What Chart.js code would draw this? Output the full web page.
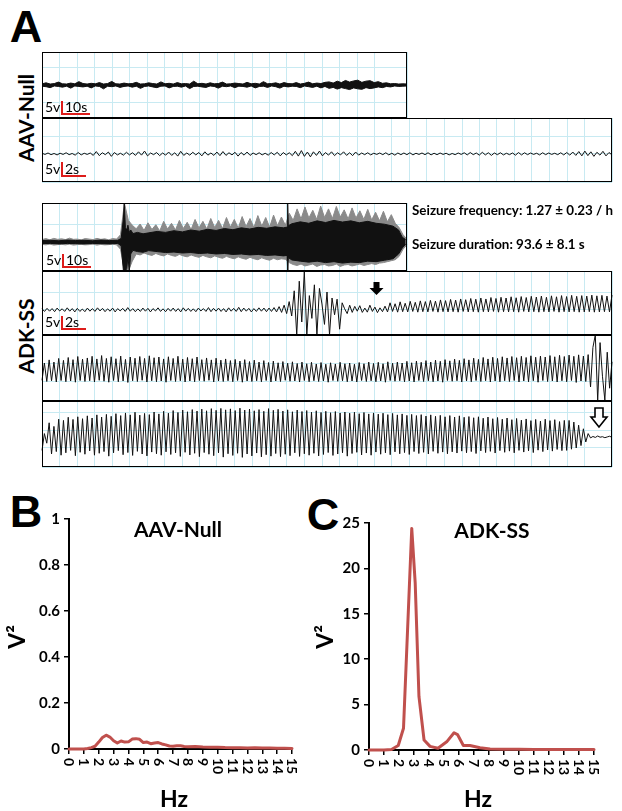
<!DOCTYPE html>
<html>
<head>
<meta charset="utf-8">
<title>EEG traces and power spectra</title>
<script src="https://cdn.jsdelivr.net/npm/chart.js@4.4.1/dist/chart.umd.min.js"></script>
<style>
  html, body { margin: 0; padding: 0; background: #fff; }
  body { position: relative; width: 622px; height: 811px; overflow: hidden; font-family: Lato, "Open Sans", sans-serif; color: #000; }
  canvas { position: absolute; }
  .t { position: absolute; white-space: nowrap; line-height: 1; transform: translate(-50%, -50%); }
  .l { position: absolute; white-space: nowrap; line-height: 1; transform: translate(0, -50%); }
  .rot { transform: translate(-50%, -50%) rotate(-90deg); }
  .b { font-weight: bold; }
  .letter { font-family: "Liberation Sans", Arial, sans-serif; font-weight: bold; font-size: 45px; }
  .scale { font-size: 14px; }
  #overlay { position: absolute; left: 0; top: 0; }
</style>
</head>
<body>

<!-- panel A -->
<div class="t letter" style="left:26px;top:26px">A</div>
<div class="t rot b" style="left:25px;top:118px;font-size:21px">AAV-Null</div>
<div class="t rot b" style="left:25px;top:336px;font-size:21px">ADK-SS</div>

<canvas id="aavSlow"></canvas>
<canvas id="aavFast"></canvas>
<canvas id="adkSlow"></canvas>
<canvas id="adkFast1"></canvas>
<canvas id="adkFast2"></canvas>
<canvas id="adkFast3"></canvas>

<div class="l b" style="left:412px;top:211px;font-size:13.4px">Seizure frequency: 1.27 ± 0.23 / h</div>
<div class="l b" style="left:412px;top:245px;font-size:13.4px">Seizure duration: 93.6 ± 8.1 s</div>

<div class="l scale" style="left:45px;top:107px">5v</div>
<div class="l scale" style="left:65px;top:107px">10s</div>
<div class="l scale" style="left:45px;top:169px">5v</div>
<div class="l scale" style="left:65px;top:169px">2s</div>
<div class="l scale" style="left:46px;top:260px">5v</div>
<div class="l scale" style="left:66px;top:260px">10s</div>
<div class="l scale" style="left:45px;top:322px">5v</div>
<div class="l scale" style="left:65px;top:322px">2s</div>

<!-- panels B and C -->
<div class="t letter" style="left:26px;top:511px">B</div>
<div class="t letter" style="left:323px;top:514px">C</div>
<canvas id="specNull"></canvas>
<canvas id="specAdk"></canvas>
<div class="t b" style="left:178px;top:528px;font-size:21px">AAV-Null</div>
<div class="t b" style="left:492px;top:529px;font-size:21px">ADK-SS</div>
<div class="t rot b" style="left:16px;top:637px;font-size:23px">V²</div>
<div class="t rot b" style="left:324px;top:637px;font-size:23px">V²</div>
<div class="t b" style="left:174px;top:798px;font-size:23px">Hz</div>
<div class="t b" style="left:478px;top:798px;font-size:23px">Hz</div>

<svg id="overlay" width="622" height="811">
  <g stroke="#dd1c1a" stroke-width="2" fill="none">
    <path d="M62 101 V114 H90"/>
    <path d="M62 162 V176 H86"/>
    <path d="M63 254 V267 H91"/>
    <path d="M62 316 V329 H86"/>
  </g>
  <polygon points="373.5,282 379.5,282 379.5,288 383.5,288 376.5,295 369.5,288 373.5,288" fill="#000"/>
  <polygon points="595,408 603,408 603,417 607,417 599,427 591,417 595,417" fill="#fff" stroke="#000" stroke-width="1.6" stroke-linejoin="miter"/>
</svg>

<script>
// ---------------- data ----------------
// AAV-Null, 10 s/div sweep (130 s): upper and lower envelope of the trace, volts
const aavSlowHi = [0.5,0.9,0.4,0.6,1.2,0.5,0.4,0.8,0.5,1.4,
  0.6,0.4,0.7,0.5,1.0,0.4,0.6,1.5,0.5,0.4,
  0.8,0.5,0.6,1.1,0.4,0.5,0.9,0.6,0.4,1.3,
  0.5,0.7,0.4,1.0,0.5,0.6,0.4,1.6,0.5,0.7,
  0.4,0.9,0.5,0.6,1.2,0.4,0.5,0.8,0.6,0.4,
  1.1,0.5,0.7,0.4,1.4,0.5,0.6,0.9,0.4,1.0,
  0.6,0.5,1.0,0.4,0.7,1.2,0.5,0.8,0.6,1.1,
  1.3,0.8,1.6,1.0,1.9,1.2,1.7,2.0,1.1,1.6,
  1.8,1.0,1.4,0.7,0.9,0.5,0.6,0.4,0.5,0.4];
const aavSlowLo = [-0.5,-0.7,-1.1,-0.4,-0.6,-0.9,-0.5,-1.3,-0.4,-0.6,
  -0.8,-0.5,-1.2,-0.4,-0.6,-1.6,-0.5,-0.7,-0.4,-1.0,
  -0.6,-0.4,-0.9,-0.5,-1.4,-0.6,-0.4,-0.8,-1.1,-0.5,
  -0.4,-1.2,-0.6,-0.5,-0.9,-0.4,-1.5,-0.6,-0.5,-0.8,
  -1.0,-0.4,-0.6,-1.3,-0.5,-0.7,-0.4,-1.1,-0.5,-0.6,
  -0.9,-0.4,-1.2,-0.6,-0.5,-1.0,-0.4,-0.7,-1.3,-0.5,
  -0.8,-0.5,-0.6,-1.1,-0.4,-0.7,-1.0,-0.5,-1.2,-0.6,
  -1.4,-1.0,-1.7,-1.1,-1.5,-1.9,-1.2,-1.6,-1.8,-1.1,
  -1.5,-1.2,-0.8,-1.1,-0.6,-0.8,-0.4,-0.6,-0.5,-0.4];

// AAV-Null, 2 s/div sweep (47.5 s), volts
const aavFast = [0.3,-0.2,0.4,-0.3,0.2,-0.4,0.3,-0.2,0.5,-0.3,
  0.2,-0.5,0.6,-0.4,0.3,-0.2,0.4,-0.6,1.0,-0.7,
  0.5,-0.3,0.8,-1.0,0.6,-0.4,0.3,-0.5,0.7,-0.4,
  0.5,-0.6,0.9,-0.5,1.2,-0.8,0.4,-0.3,0.6,-0.7,
  0.4,-0.5,0.8,-0.6,0.5,-0.9,1.1,-0.6,0.4,-0.5,
  0.7,-0.4,0.6,-0.8,0.9,-0.5,0.4,-0.6,0.8,-0.7,
  1.0,-0.6,0.5,-0.4,0.7,-0.9,0.6,-0.5,0.8,-0.6,
  0.4,-0.3,0.5,-0.4,0.3,-0.5,0.6,-0.4,0.7,-0.8,
  0.6,-0.4,0.5,-0.7,1.1,-0.9,1.4,-1.0,0.8,-1.2,
  0.9,-0.6,1.2,-0.8,0.6,-0.5,0.9,-0.7,0.5,-0.4,
  0.9,-0.6,0.5,-0.7,0.8,-0.5,0.4,-0.3,0.5,-0.4,
  0.3,-0.2,0.4,-0.3,0.5,-0.4,0.3,-0.5,0.4,-0.3,
  0.4,-0.3,0.5,-0.4,0.3,-0.2,0.4,-0.3,0.5,-0.4,
  0.3,-0.3,0.4,-0.2,0.3,-0.4,0.2,-0.3,0.4,-0.2,
  0.5,-0.4,0.6,-0.3,0.4,-0.5,0.7,-0.4,0.5,-0.6,
  0.4,-0.3,0.5,-0.4,0.3,-0.3,0.4,-0.5,0.6,-0.4,
  0.5,-0.3,0.4,-0.2,0.3,-0.4,0.5,-0.3,0.4,-0.2,
  0.3,-0.3,0.5,-0.4,0.6,-0.5,0.8,-0.6,1.0,-0.8,
  1.2,-0.7,0.9,-1.0,0.7,-0.5,1.1,-0.8,0.6,-0.4];

// ADK-SS seizure, 10 s/div sweep (130 s)
// dense core of the trace: times (s) and envelope (volts)
const adkSlowTime = [0,3,6,9,12,15,18,21,24,27,28.2,29.0,29.3,29.7,30.2,30.6,31.1,31.6,32.4,34,
  36,38,41,44,47,50,53,56,59,62,65,68,71,74,77,80,83,86,87.3,87.5,
  87.7,89,92,95,98,101,104,107,110,113,116,119,122,125,127,128.3,129.5];
const adkSlowCoreHi = [0.6,0.7,0.5,0.8,0.6,0.7,0.5,0.8,0.6,0.7,1.5,10,16.2,6,5,7,4,5,3.5,4.0,
  3.4,3.8,4.4,4.0,4.7,4.2,5.0,4.5,5.3,4.8,5.6,5.1,5.9,5.4,6.1,5.7,6.3,5.9,6.2,16.2,
  6.8,7.6,8.4,7.8,8.8,8.1,9.0,8.3,8.8,8.0,8.6,7.8,7.4,6.6,5.0,2.0,1.0];
const adkSlowCoreLo = [-0.7,-0.6,-0.8,-0.6,-0.7,-0.8,-0.6,-0.7,-0.8,-0.6,-1.6,-12.1,-12.1,-12.1,-11,-6,-12.1,-5,-3.5,-4.0,
  -4.3,-3.6,-4.0,-4.4,-4.2,-4.6,-4.4,-4.8,-4.6,-5.0,-4.8,-5.2,-5.0,-5.4,-5.2,-5.6,-5.4,-5.8,-5.6,-12.1,
  -6.5,-7.5,-8.0,-8.4,-8.0,-8.6,-8.2,-8.8,-8.4,-8.6,-8.0,-8.2,-7.6,-7.0,-5.0,-2.5,-1.0];
// sparse spike tips around the core, evenly sampled over the sweep (volts)
const adkSlowSpikeHi = [1.0,1.4,0.9,1.5,1.1,1.3,1.0,1.6,1.1,1.2,0.9,1.4,1.2,1.0,1.5,1.1,1.3,0.9,1.4,1.2,
  3.0,16.2,9.0,7.0,
  5.5,7.5,4.8,8.0,5.2,7.2,4.6,8.6,5.4,7.8,5.0,9.0,5.6,8.2,5.2,9.4,5.8,8.6,5.4,9.8,
  6.0,9.0,5.6,10.2,6.2,9.4,5.8,10.6,6.4,9.8,6.0,11.0,6.6,10.2,6.2,11.2,6.8,10.4,
  7.0,
  12.0,9.0,13.8,9.6,14.6,10.0,13.2,9.4,15.0,10.2,13.8,9.8,14.8,10.4,13.4,9.6,14.2,10.0,13.0,9.4,
  13.6,9.2,12.4,8.8,12.8,8.4,11.4,7.8,
  6.0,3.0,1.2];
const adkSlowSpikeLo = [-1.0,-1.2,-0.9,-1.3,-1.1,-1.0,-1.2,-0.9,-1.3,-1.1,-1.0,-1.2,-1.1,-0.9,-1.3,-1.0,-1.2,-1.1,-0.9,-1.2,
  -3.0,-12.1,-12.1,-8.0,
  -5.0,-5.4,-4.6,-5.2,-5.6,-4.8,-5.4,-5.8,-5.0,-5.6,-6.0,-5.2,-5.8,-6.2,-5.4,-6.0,-6.4,-5.6,-6.2,-6.6,
  -5.8,-6.4,-6.8,-6.0,-6.6,-7.0,-6.2,-6.8,-7.2,-6.4,-7.0,-7.4,-6.6,-7.2,-7.6,-6.8,-7.4,-7.0,
  -7.2,
  -8.6,-9.4,-9.8,-9.2,-10.0,-9.6,-9.2,-10.2,-9.6,-9.4,-10.0,-9.8,-9.2,-10.2,-9.6,-9.4,-10.0,-9.6,-9.2,-9.8,
  -9.4,-9.0,-9.4,-8.8,-8.6,-8.2,-7.8,-7.4,
  -6.0,-3.0,-1.2];

// ADK-SS, 2 s/div sweeps (47.5 s each), volts
const adkFast1 = [0.5,-0.6,0.7,-0.5,0.6,-0.7,0.8,-0.4,0.5,-0.6,
  0.9,-0.5,0.6,-0.8,0.7,-0.6,0.4,-0.7,0.8,-0.5,
  0.6,-0.6,0.9,-0.4,0.7,-0.7,0.5,-0.5,0.8,-0.8,
  0.6,-0.4,0.7,-0.6,1.0,-0.5,0.6,-0.7,0.5,-0.6,
  0.8,-0.5,0.7,-0.8,0.6,-0.4,0.9,-0.6,0.5,-0.7,
  0.7,-0.5,0.8,-0.6,0.6,-0.8,0.9,-0.5,0.7,-0.6,
  0.5,-0.7,0.8,-0.4,0.6,-0.6,1.0,-0.7,0.7,-0.5,
  0.8,-0.6,0.6,-0.8,0.9,-0.5,0.7,-0.6,1.1,-0.7,
  0.8,-0.5,0.7,-0.8,0.6,-0.6,0.9,-0.5,0.8,-0.7,
  0.8,-0.6,1.0,-0.8,1.4,-1.0,2.0,-1.5,3.5,-2.5,
  8.0,-10.4,12.0,-5.0,16.2,-10.4,6.0,-3.5,10.5,-10.4,9.0,2.5,-6.0,7.5,-10.4,5.0,-2.0,4.5,-8.0,3.0,0.5,-1.5,2.0,-1.0,
  1.5,-0.5,1.8,-1.0,0.8,-0.9,2.0,-0.6,1.2,-1.1,0.9,-0.7,1.6,
  -0.8,3.0,-0.6,2.6,-0.9,3.4,-0.7,2.8,-0.8,3.6,
  -0.6,3.2,-0.9,3.8,-0.7,3.5,-0.8,4.0,-0.6,3.7,
  -0.9,4.2,-0.7,3.9,-0.8,4.4,-0.7,4.1,-0.9,4.6,
  -0.6,4.3,-0.8,4.8,-0.7,4.5,-0.9,5.0,-0.7,4.6,
  -0.8,5.2,-0.6,4.8,-0.9,5.3,-0.7,5.0,-0.8,5.5,
  -0.7,5.1,-0.9,5.6,-0.6,5.2,-0.8,5.7,-0.7,5.4,
  -0.9,5.8,-0.7,5.3,-0.8,5.9,-0.6,5.5,-0.9,6.0,
  -0.7,5.6,-0.8,6.1,-0.7,5.7,-0.9,6.0,-0.8,5.8,
  -0.7,6.2,-0.9,5.9,-0.8,6.1,-0.7,5.8,-0.8,6.2];

const adkFast2 = [0.3,7.5,-0.2,8.8,0.1,7.9,-0.4,9.4,0.2,8.6,
  -0.3,9.8,0.0,8.9,-0.5,10.2,0.2,9.1,-0.2,9.6,
  0.1,10.3,-0.4,9.2,0.3,10.6,-0.1,9.4,-0.5,10.1,
  0.2,9.3,-0.3,10.4,0.0,9.0,-0.6,10.0,0.1,9.5,
  -0.2,10.2,0.3,9.4,-0.4,10.5,0.1,9.7,-0.3,10.0,
  0.0,9.2,-0.5,10.1,0.2,9.4,-0.2,10.3,0.1,9.1,
  -0.4,9.8,0.0,9.3,-0.3,10.0,0.2,8.9,-0.1,9.6,
  0.3,8.8,-0.4,9.5,0.0,8.7,-0.2,9.2,0.1,8.5,
  -0.3,9.0,0.2,8.3,-0.5,8.9,0.0,8.1,-0.2,8.7,
  0.1,7.9,-0.3,8.5,0.2,7.7,-0.4,8.3,0.0,7.6,
  -0.2,8.1,0.3,7.4,-0.1,8.0,0.0,7.3,-0.4,7.9,
  0.2,7.2,-0.3,7.8,0.1,7.1,-0.2,7.7,0.0,7.0,
  -0.5,7.6,0.2,7.1,-0.1,7.8,0.1,7.2,-0.3,7.5,
  0.0,7.0,-0.4,7.7,0.2,7.2,-0.2,7.9,0.1,7.3,
  -0.3,7.8,0.0,7.2,-0.5,8.0,0.2,7.4,-0.1,7.9,
  0.1,7.5,-0.3,8.2,0.0,7.6,-0.4,8.3,0.2,7.8,
  -0.2,8.5,0.1,7.9,-0.3,8.7,0.0,8.2,-0.5,8.9,
  0.2,8.4,-0.1,9.1,0.1,8.6,-0.4,9.3,0.0,8.8,
  -0.3,9.5,0.2,9.0,-0.2,9.8,0.1,9.2,-0.4,9.9,
  0.0,9.4,-0.3,10.1,0.1,9.6,-0.2,10.2,0.2,9.7,
  -0.4,10.3,0.0,9.8,-0.3,10.5,0.1,9.9,-0.5,10.4,
  0.2,10.0,-0.2,10.6,0.0,10.1,-0.4,10.7,0.1,10.2,
  -0.3,10.8,0.2,10.3,-0.6,10.9,0.0,10.4,-0.2,11.0,
  -2.5,14.0,19.2,-8.3,16.0,2.0,-8.0,12.0,-3.0,8.0];

const adkFast3 = [-1.0,6.0,2.0,10.5,-2.5,9.0,-1.5,12.0,-3.0,11.5,
  -2.0,12.8,-1.0,11.9,-3.2,13.0,-1.8,12.2,-2.6,13.4,
  -1.2,12.5,-3.0,13.8,-2.2,12.9,-1.5,14.0,-3.4,13.2,
  -2.0,14.3,-1.1,13.5,-2.8,14.6,-1.9,13.8,-3.1,14.9,
  -1.4,13.7,-2.5,14.4,-3.3,13.9,-1.7,15.0,-2.4,14.2,
  -3.0,15.3,-1.6,14.5,-2.7,15.6,-2.0,14.8,-3.5,15.8,
  -1.8,15.1,-2.9,16.0,-2.2,15.4,-3.6,16.2,-1.9,15.5,
  -2.6,16.4,-3.2,15.7,-2.0,16.5,-3.8,15.9,-2.4,16.3,
  -3.1,15.6,-2.2,16.6,-3.9,15.8,-2.5,16.2,-3.3,15.5,
  -2.1,16.0,-3.7,15.3,-2.8,16.4,-3.4,15.7,-2.3,16.1,
  -3.6,15.4,-2.6,15.9,-3.2,15.1,-2.0,15.8,-3.5,15.2,
  -2.4,15.6,-3.0,14.9,-2.2,15.5,-3.3,14.8,-2.7,15.3,
  -1.9,14.7,-3.1,15.2,-2.5,14.6,-2.0,15.0,-3.4,14.5,
  -2.3,14.9,-1.8,14.3,-2.9,14.8,-2.1,14.2,-3.0,14.6,
  -1.7,14.1,-2.6,14.5,-2.0,13.9,-2.8,14.4,-1.6,13.8,
  -2.4,14.2,-1.9,13.6,-2.7,14.0,-1.5,13.5,-2.3,13.9,
  -1.8,13.3,-2.5,13.8,-1.4,13.2,-2.2,13.6,-1.7,13.0,
  -2.4,13.5,-1.6,12.9,-2.1,13.4,-1.3,12.8,-2.0,13.1,
  -1.5,12.6,-2.3,13.0,-1.2,12.4,-1.9,12.9,-1.4,12.2,
  -2.1,12.7,-1.1,12.0,-1.8,12.5,-1.3,11.8,-2.0,12.3,
  -1.0,11.6,-1.7,12.1,-1.2,11.4,-1.9,11.9,-0.9,11.2,
  -1.5,12.0,-0.8,11.4,-1.3,11.8,-0.6,11.0,-1.1,11.5,
  -1.0,11.5,-0.5,10.8,0.0,9.5,1.0,8.0,2.5,6.0,
  4.2,4.8,4.4,5.0,4.5,4.7,4.3,4.6,4.9,4.4];

// power spectra
const hzNull = [0,0.25,0.5,0.75,1,1.25,1.5,1.75,2,2.25,2.5,2.75,3,3.25,3.5,3.75,4,4.25,4.5,4.75,
  5,5.25,5.5,5.75,6,6.25,6.5,6.75,7,7.25,7.5,7.75,8,8.5,9,9.5,10,10.5,11,11.5,12,12.5,13,13.5,14,14.5,15];
const powerNull = [0,0,0,0,0,0.002,0.006,0.012,0.03,0.05,0.06,0.052,0.036,0.026,0.035,0.03,0.031,0.043,0.045,0.042,
  0.028,0.03,0.023,0.026,0.028,0.022,0.018,0.013,0.012,0.014,0.014,0.011,0.01,0.011,0.009,0.008,0.008,0.006,0.005,0.005,0.004,0.005,0.004,0.004,0.003,0.003,0.002];
const hzAdk = [0,0.5,1,1.5,1.95,2.3,2.85,3.08,3.33,3.67,4.07,4.6,5.18,5.67,5.9,6.29,6.73,7.4,8.07,9,10,11,12,13,14,15];
const powerAdk = [0,0,0,0.05,0.5,2.4,24.4,18.4,5.9,1.1,0.4,0.2,0.9,1.9,1.7,0.5,0.5,0.25,0.1,0.08,0.07,0.06,0.05,0.05,0.05,0.05];

// ---------------- drawing ----------------
const GRID = '#c8eaf2';
const INK = '#111';
const M = 6;

const boxBorder = {
  id: 'boxBorder',
  afterDraw(chart) {
    const a = chart.chartArea, c = chart.ctx;
    c.save();
    c.strokeStyle = '#000';
    c.lineWidth = 1;
    c.strokeRect(Math.round(a.left) + 0.5, Math.round(a.top) + 0.5,
      Math.round(a.right - a.left) - 1, Math.round(a.bottom - a.top) - 1);
    c.restore();
  }
};

function series(values, dur) {
  return values.map((v, i) => ({ x: i * dur / (values.length - 1), y: v }));
}

function timed(times, values) {
  return values.map((v, i) => ({ x: times[i], y: v }));
}

function lineSet(points, color, fill) {
  return {
    data: points, borderColor: color, backgroundColor: color, borderWidth: 1,
    pointRadius: 0, tension: 0, fill: fill || false, clip: false, borderJoinStyle: 'round'
  };
}

function makeTrace(id, box, datasets, xMax, yMin, yMax) {
  const cv = document.getElementById(id);
  cv.width = box.w + 2 * M;
  cv.height = box.h + 2 * M;
  cv.style.left = (box.x - M) + 'px';
  cv.style.top = (box.y - M) + 'px';
  new Chart(cv, {
    type: 'line',
    data: { datasets },
    options: {
      responsive: false, animation: false, events: [],
      layout: { padding: M },
      plugins: { legend: { display: false }, tooltip: { enabled: false } },
      scales: {
        x: {
          type: 'linear', min: 0, max: xMax,
          ticks: { display: false, stepSize: xMax * 17.5 / box.w },
          grid: { color: GRID, drawTicks: false }, border: { display: false },
          afterFit(s) { s.height = 0; }
        },
        y: {
          min: yMin, max: yMax,
          ticks: { display: false, stepSize: (yMax - yMin) * 17.5 / box.h },
          grid: { color: GRID, drawTicks: false }, border: { display: false },
          afterFit(s) { s.width = 0; }
        }
      }
    },
    plugins: [boxBorder]
  });
}

makeTrace('aavSlow', { x: 42, y: 52, w: 365, h: 66 }, [
  lineSet(series(aavSlowHi, 130), INK, '+1'),
  lineSet(series(aavSlowLo, 130), INK)
], 130, -13.75, 13.75);

makeTrace('aavFast', { x: 42, y: 118, w: 570, h: 64 }, [
  lineSet(series(aavFast, 47.5), INK)
], 47.5, -11.7, 15);

// datasets are painted last-first, so the black core goes first to sit on top
makeTrace('adkSlow', { x: 42, y: 203, w: 365, h: 68 }, [
  lineSet(timed(adkSlowTime, adkSlowCoreHi), INK, '+1'),
  lineSet(timed(adkSlowTime, adkSlowCoreLo), INK),
  lineSet(series(adkSlowSpikeHi, 130), '#8a8a8a', '+1'),
  lineSet(series(adkSlowSpikeLo, 130), '#8a8a8a')
], 130, -12.1, 16.25);

makeTrace('adkFast1', { x: 42, y: 271, w: 570, h: 64 }, [
  lineSet(series(adkFast1, 47.5), INK)
], 47.5, -10.42, 16.25);

makeTrace('adkFast2', { x: 42, y: 335, w: 570, h: 66 }, [
  lineSet(series(adkFast2, 47.5), INK)
], 47.5, -8.33, 19.17);

makeTrace('adkFast3', { x: 42, y: 401, w: 570, h: 66 }, [
  lineSet(series(adkFast3, 47.5), INK)
], 47.5, -7.92, 19.58);

// x tick labels in B and C read top to bottom
const hzTicks = {
  id: 'hzTicks',
  afterDraw(chart) {
    const sc = chart.scales.x, ctx = chart.ctx;
    ctx.save();
    ctx.fillStyle = '#000';
    ctx.font = 'bold 14px Lato';
    ctx.textAlign = 'left';
    ctx.textBaseline = 'middle';
    sc.ticks.forEach(t => {
      ctx.save();
      ctx.translate(sc.getPixelForValue(t.value), sc.top + 9);
      ctx.rotate(Math.PI / 2);
      ctx.fillText(String(t.value), 0, 0);
      ctx.restore();
    });
    ctx.restore();
  }
};

function spectrum(id, pos, hz, power, yMax, yStep) {
  const cv = document.getElementById(id);
  cv.width = pos.w;
  cv.height = pos.h;
  cv.style.left = pos.x + 'px';
  cv.style.top = pos.y + 'px';
  new Chart(cv, {
    type: 'line',
    data: {
      datasets: [{
        data: hz.map((f, i) => ({ x: f, y: power[i] })),
        borderColor: '#c0504d', borderWidth: 3, pointRadius: 0, tension: 0,
        clip: false, borderJoinStyle: 'round', borderCapStyle: 'round'
      }]
    },
    options: {
      responsive: false, animation: false, events: [],
      layout: { padding: { left: 0, top: pos.top, right: pos.right, bottom: 0 } },
      plugins: { legend: { display: false }, tooltip: { enabled: false } },
      scales: {
        x: {
          type: 'linear', min: 0, max: 15,
          ticks: { display: false, stepSize: 1 },
          grid: { drawOnChartArea: false, color: '#000', tickLength: 5, lineWidth: 1.5 },
          border: { color: '#000', width: 2 },
          afterFit(s) { s.height = pos.bottom; }
        },
        y: {
          min: 0, max: yMax,
          ticks: {
            stepSize: yStep, color: '#000', padding: 4,
            font: { family: 'Lato', weight: 'bold', size: 15 },
            callback: v => String(Number(v.toFixed(2)))
          },
          grid: { drawOnChartArea: false, color: '#000', tickLength: 5, lineWidth: 1.5 },
          border: { color: '#000', width: 2 },
          afterFit(s) { s.width = 69; }
        }
      }
    },
    plugins: [hzTicks]
  });
}

spectrum('specNull', { x: 0, y: 480, w: 310, h: 330, top: 39, right: 18, bottom: 61 }, hzNull, powerNull, 1, 0.2);
spectrum('specAdk', { x: 300, y: 480, w: 322, h: 330, top: 43, right: 28, bottom: 60 }, hzAdk, powerAdk, 25, 5);
</script>
</body>
</html>
